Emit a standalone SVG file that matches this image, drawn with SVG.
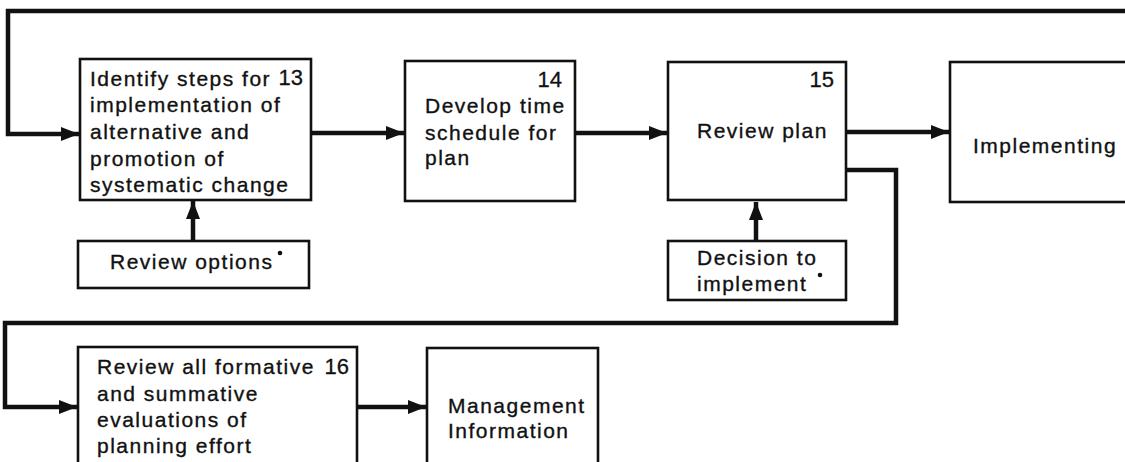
<svg xmlns="http://www.w3.org/2000/svg" width="1125" height="462" viewBox="0 0 1125 462">
  <style>
    .box { fill: #ffffff; stroke: #111111; stroke-width: 2.6; }
    .lbl { font-family: "Liberation Sans", Arial, sans-serif; font-size: 21px; letter-spacing: 1.5px; fill: #111111; stroke: #111111; stroke-width: 0.35; }
    .num { font-family: "Liberation Sans", Arial, sans-serif; font-size: 22px; fill: #111111; stroke: #111111; stroke-width: 0.3; text-anchor: end; }
    .wire { fill: none; stroke: #111111; stroke-width: 4.5; stroke-linejoin: miter; }
  </style>
  <defs>
    <marker id="head" markerUnits="userSpaceOnUse" markerWidth="20" markerHeight="14" refX="18" refY="7" orient="auto">
      <path d="M0,0 L18,7 L0,14 Z" fill="#111111"/>
    </marker>
  </defs>
  <rect width="1125" height="462" fill="#ffffff"/>

  <!-- flow lines between the boxes -->
  <g id="connectors">
    <path class="wire" d="M1130,11 H8 V134 H79" marker-end="url(#head)"/>
    <path class="wire" d="M311,133 H404" marker-end="url(#head)"/>
    <path class="wire" d="M575,133 H667" marker-end="url(#head)"/>
    <path class="wire" d="M846,132 H949" marker-end="url(#head)"/>
    <path class="wire" d="M193,241 V201" marker-end="url(#head)"/>
    <path class="wire" d="M756,241 V202" marker-end="url(#head)"/>
    <path class="wire" d="M846,170 H896 V323 H5 V407 H77" marker-end="url(#head)"/>
    <path class="wire" d="M357,407 H426" marker-end="url(#head)"/>
  </g>

  <g id="node13">
    <rect class="box" x="80" y="59" width="231" height="141"/>
    <text class="lbl" x="90" y="86">Identify steps for</text>
    <text class="num" x="303" y="85">13</text>
    <text class="lbl" x="90" y="112">implementation of</text>
    <text class="lbl" x="90" y="139">alternative and</text>
    <text class="lbl" x="90" y="166">promotion of</text>
    <text class="lbl" x="90" y="192">systematic change</text>
  </g>

  <g id="node14">
    <rect class="box" x="405" y="61" width="170" height="140"/>
    <text class="num" x="562" y="87">14</text>
    <text class="lbl" x="425" y="113">Develop time</text>
    <text class="lbl" x="425" y="140">schedule for</text>
    <text class="lbl" x="425" y="165">plan</text>
  </g>

  <g id="node15">
    <rect class="box" x="668" y="62" width="178" height="138"/>
    <text class="num" x="834" y="87">15</text>
    <text class="lbl" x="697" y="138">Review plan</text>
  </g>

  <g id="implementing">
    <rect class="box" x="950" y="62" width="190" height="140"/>
    <text class="lbl" x="973" y="153">Implementing</text>
  </g>

  <g id="review-options">
    <rect class="box" x="78" y="241" width="231" height="47"/>
    <text class="lbl" x="110" y="269">Review options</text>
    <circle cx="280" cy="253" r="2.3" fill="#111111"/>
  </g>

  <g id="decision">
    <rect class="box" x="668" y="241" width="178" height="59"/>
    <text class="lbl" x="697" y="265">Decision to</text>
    <text class="lbl" x="697" y="291">implement</text>
    <circle cx="820" cy="275" r="2.3" fill="#111111"/>
  </g>

  <g id="node16">
    <rect class="box" x="78" y="347" width="279" height="130"/>
    <text class="lbl" x="97" y="374">Review all formative</text>
    <text class="num" x="349" y="374">16</text>
    <text class="lbl" x="97" y="401">and summative</text>
    <text class="lbl" x="97" y="427">evaluations of</text>
    <text class="lbl" x="97" y="453">planning effort</text>
  </g>

  <g id="management">
    <rect class="box" x="427" y="348" width="171" height="130"/>
    <text class="lbl" x="448" y="413">Management</text>
    <text class="lbl" x="448" y="438">Information</text>
  </g>
</svg>
